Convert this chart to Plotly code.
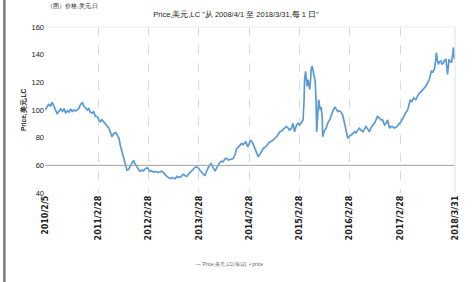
import plotly.graph_objects as go

# decimal-year positions
dates = [
 2010.10,2010.17,2010.21,2010.24,2010.28,2010.34,2010.38,2010.41,2010.45,2010.48,
 2010.51,2010.55,2010.58,2010.61,2010.64,2010.67,2010.71,2010.74,2010.77,2010.80,
 2010.84,2010.87,2010.91,2010.94,2010.97,2011.00,2011.04,2011.07,2011.10,2011.14,
 2011.17,2011.20,2011.23,2011.27,2011.30,2011.33,2011.37,2011.40,2011.43,2011.47,
 2011.51,2011.55,2011.57,2011.60,2011.62,2011.64,2011.66,2011.69,2011.73,2011.76,
 2011.78,2011.81,2011.86,2011.89,2011.93,2011.96,2011.99,2012.03,2012.06,2012.09,
 2012.13,2012.16,2012.19,2012.22,2012.26,2012.30,2012.34,2012.39,2012.42,2012.46,
 2012.49,2012.52,2012.56,2012.60,2012.63,2012.69,2012.72,2012.75,2012.79,2012.82,
 2012.85,2012.89,2012.92,2012.95,2012.99,2013.02,2013.05,2013.08,2013.12,2013.15,
 2013.18,2013.21,2013.25,2013.28,2013.31,2013.35,2013.40,2013.44,2013.48,2013.51,
 2013.55,2013.58,2013.61,2013.64,2013.68,2013.71,2013.74,2013.78,2013.81,2013.84,
 2013.88,2013.91,2013.94,2013.97,2014.01,2014.04,2014.09,2014.13,2014.16,2014.19,
 2014.23,2014.26,2014.30,2014.34,2014.38,2014.41,2014.44,2014.49,2014.54,2014.57,
 2014.61,2014.67,2014.71,2014.77,2014.81,2014.85,2014.90,2014.93,2014.96,2015.00,
 2015.03,2015.06,2015.10,2015.13,2015.16,2015.19,2015.23,2015.25,2015.26,2015.28,
 2015.30,2015.31,2015.33,2015.34,2015.36,2015.38,2015.39,2015.41,2015.43,2015.45,
 2015.47,2015.49,2015.50,2015.52,2015.54,2015.56,2015.57,2015.59,2015.61,2015.62,
 2015.66,2015.69,2015.72,2015.76,2015.79,2015.82,2015.86,2015.89,2015.92,2015.95,
 2015.99,2016.02,2016.04,2016.06,2016.09,2016.12,2016.15,2016.19,2016.22,2016.25,
 2016.28,2016.32,2016.35,2016.38,2016.42,2016.45,2016.48,2016.52,2016.55,2016.58,
 2016.61,2016.65,2016.68,2016.71,2016.75,2016.78,2016.81,2016.85,2016.88,2016.91,
 2016.95,2016.98,2017.01,2017.04,2017.08,2017.11,2017.14,2017.18,2017.21,2017.24,
 2017.27,2017.31,2017.33,2017.36,2017.39,2017.43,2017.47,2017.51,2017.54,2017.57,
 2017.60,2017.64,2017.67,2017.70,2017.74,2017.76,2017.78,2017.81,2017.84,2017.86,
 2017.88,2017.90,2017.92,2017.94,2017.97,2017.99,2018.02,2018.04,2018.07,2018.09,
 2018.10,2018.12,2018.13,2018.16,2018.18,2018.20,2018.22,2018.24]

price = [
 100,104,103,105.5,102.5,97.5,99,100.7,99,101,
 97.7,99.5,98.5,100.7,99,100,99.3,100.5,101,103.5,
 105.5,103,101.5,100,101,98.5,97.7,99,95.5,95.3,
 93,91.6,93,91,90.4,88,86.8,84,80.7,83,
 83.6,81,79.5,74,71,68,65,62,56.4,57,
 58.3,61,63.6,61,58.3,57,55.8,56.5,56,57.5,
 58.3,56.5,55.5,56,55.1,55.5,55,55.3,55.8,54.5,
 53,52,51,50.5,51,50.3,52,51.5,51.5,52.7,
 53.5,52.5,52,53.5,55,56.5,57.6,58.5,58.8,58,
 56.4,55,53.5,52.7,55.5,58.8,61.2,58,55.8,58,
 60.5,62.4,63,62.5,64.9,65,63.8,64.2,65,64.9,
 68,72.2,73,74.5,75.8,75,77,73.4,76,78.2,
 76,73.4,70,66.1,68.5,70,72.2,73.5,75.8,77,
 77.5,79.5,81,84.3,85,86.5,88,87,85.5,87,
 90.4,84.3,89.2,90.4,89,90.4,92.8,107,122,128,
 122,117.2,122,120,114.7,122,129.3,131.8,127,123.3,
 120.8,105,84.3,95,107.4,103,100.1,102.1,95,80.7,
 85.5,87,90.4,93,96.5,99,102.1,100,98.9,99.5,
 98.2,96,92.8,88,83.1,79.5,81,81.9,83,84.3,
 83.5,85.5,86.8,85.5,84.3,86,88,86,84.3,87,
 89,90.4,93,95.3,94,92.8,92.8,89.2,90.4,92.8,
 86.8,88,88,87,87.5,88.5,90,91.6,94,96.5,
 98,100.1,104,107.4,106,108.7,107.4,110,112.3,113,
 114.7,116,117.2,119.5,122,125,128.1,127.5,129.3,134,
 141.5,136,133,135,135.4,133,134.2,136,136.6,130,
 125.7,132,136.6,135,134.2,139,145.2,136.6]

tick_pos = [2010.10, 2011.16, 2012.16, 2013.16, 2014.16, 2015.16, 2016.16, 2017.16, 2018.25]
tick_text = ["2010/2/5", "2011/2/28", "2012/2/28", "2013/2/28", "2014/2/28",
             "2015/2/28", "2016/2/28", "2017/2/28", "2018/3/31"]

title_text = 'Price,美元,LC "从 2008/4/1 至 2018/3/31,每 1 日"'
y_title = "Price,美元,LC"
legend_text = "— Price,美元,LC(每日)  • price"
top_text = "（图）价格,美元,日"

fig = go.Figure()
fig.add_trace(go.Scatter(x=dates, y=price, mode="lines",
                         line=dict(color="rgb(91,155,213)", width=1.7),
                         showlegend=False))

fig.update_layout(
    width=472, height=282,
    margin=dict(l=45, r=14, t=27, b=89),
    paper_bgcolor="white", plot_bgcolor="white",
    font=dict(family="Liberation Sans, Arial", color="#333"),
    title=dict(text=title_text, x=0.5, xanchor="center", y=0.95, yanchor="middle",
               font=dict(size=7.5, color="#222")),
    xaxis=dict(range=[2010.10, 2018.25], tickmode="array", tickvals=tick_pos,
               ticktext=["<b>%s</b>" % t for t in tick_text], tickangle=-90,
               tickfont=dict(size=8, color="#222", family="DejaVu Sans"),
               showgrid=True, gridcolor="#d9d9d9", griddash="dash", gridwidth=1,
               zeroline=False, showline=False, ticks=""),
    yaxis=dict(range=[40, 160], dtick=20, showgrid=False, zeroline=False,
               showline=False, ticks="", tickfont=dict(size=7.5, color="#222"),
               title=dict(text="<b>%s</b>" % y_title, font=dict(size=6.5, color="#222"),
                          standoff=4)),
    shapes=[
        dict(type="line", xref="paper", yref="y", x0=0, x1=1, y0=60, y1=60,
             line=dict(color="#a0a0a0", width=1)),
        dict(type="line", xref="paper", yref="paper", x0=0, x1=1, y0=1, y1=1,
             line=dict(color="#ebebeb", width=1)),
        dict(type="line", xref="paper", yref="paper", x0=1, x1=1, y0=0, y1=1,
             line=dict(color="#e0e0e0", width=1)),
        dict(type="line", xref="paper", yref="paper", x0=-0.099, x1=-0.099,
             y0=-0.6, y1=1.2, line=dict(color="#7a7a7a", width=2.5)),
    ],
    annotations=[
        dict(text=legend_text, xref="paper", yref="paper",
             x=0.45, y=-0.455, showarrow=False, font=dict(size=5, color="#666")),
        dict(text=top_text, xref="paper", yref="paper", x=0.0, xanchor="left",
             y=1.16, yanchor="top", showarrow=False,
             font=dict(size=6, color="#222")),
    ],
)

fig.write_html("out.html", config={"displayModeBar": False},
               post_script="document.body.style.margin='0px';")
